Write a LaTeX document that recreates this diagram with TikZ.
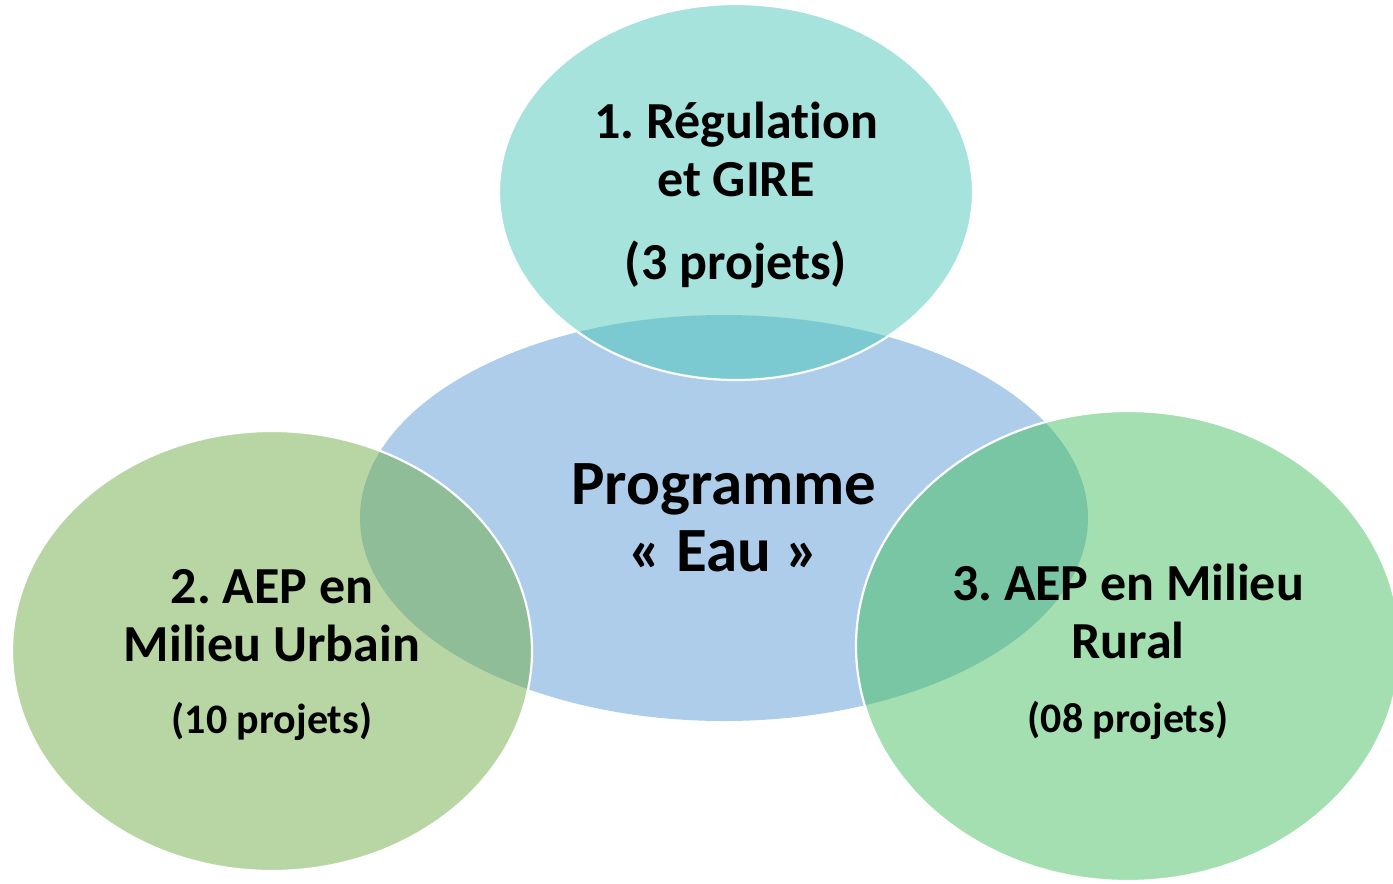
\documentclass[tikz,border=0pt]{standalone}
\usepackage{fontspec}
\setmainfont[Ligatures=NoCommon]{Carlito}
\usepackage{xcolor}
\usetikzlibrary{shapes.geometric}
\frenchspacing

\definecolor{progblue}{HTML}{5B9BD5}
\definecolor{giregreen}{HTML}{4BC7B9}
\definecolor{urbgreen}{HTML}{70AD47}
\definecolor{rurgreen}{HTML}{47BF61}

\tikzset{
  bubble/.style={ellipse, fill opacity=0.5, inner sep=0pt},
  outer/.style={bubble, draw=white, draw opacity=1, line width=2.2pt},
  caption/.style={align=center, font=\bfseries\fontsize{52}{58}\selectfont, inner sep=0pt}
}
\newcommand{\nbproj}[1]{{\fontsize{42}{48}\selectfont #1}}

\begin{document}
\begin{tikzpicture}[x=1pt, y=-1pt]
  \useasboundingbox (0,0) rectangle (1393,884);

  % centre
  \node[bubble, fill=progblue, minimum width=728pt, minimum height=406pt] (eau) at (724,518) {};

  % satellites
  \node[outer, fill=giregreen, minimum width=474pt, minimum height=376pt] (gire) at (736,192) {};
  \node[outer, fill=urbgreen, minimum width=520pt, minimum height=440pt] (urbain) at (272,651) {};
  \node[outer, fill=rurgreen, minimum width=544pt, minimum height=470pt] (rural) at (1128,646) {};

  % texts
  \node[caption, font=\bfseries\fontsize{63}{67}\selectfont] (eau-t) at (eau.center)
        {Programme\\« Eau »};
  \node[caption, yshift=-3pt] (gire-t) at (gire.center)
        {1. Régulation\\et GIRE\\[25pt](3 projets)};
  \node[caption, yshift=-4pt] (urbain-t) at (urbain.center)
        {2. AEP en\\Milieu Urbain\\[14pt]\nbproj{(10 projets)}};
  \node[caption, yshift=-6pt] (rural-t) at (rural.center)
        {3. AEP en Milieu\\Rural\\[16pt]\nbproj{(08 projets)}};
\end{tikzpicture}
\end{document}
